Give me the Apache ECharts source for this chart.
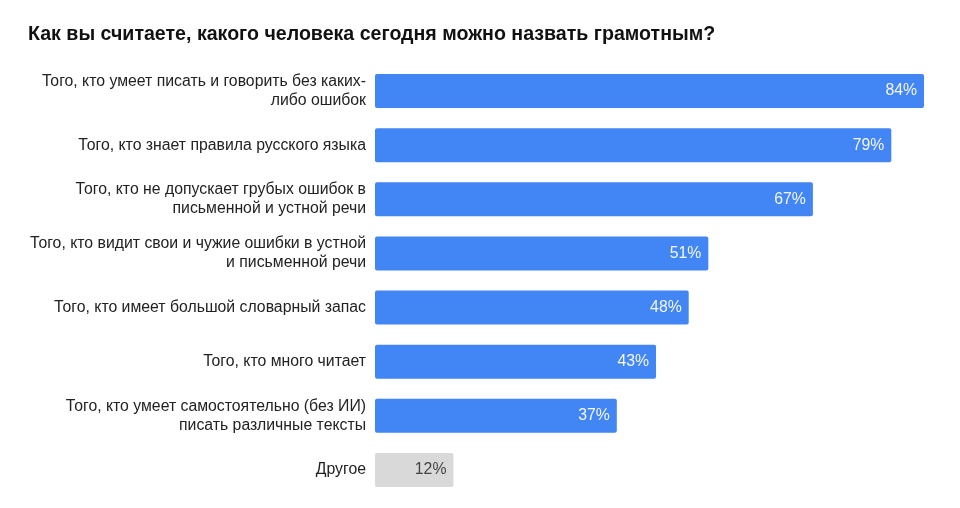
<!DOCTYPE html>
<html><head><meta charset="utf-8">
<script src="https://cdn.jsdelivr.net/npm/echarts@6/dist/echarts.min.js"></script>
<style>html,body{margin:0;padding:0;background:#fff}#c{width:960px;height:508px}</style>
</head><body><div id="c"></div>
<script>
const categories = [
  "Того, кто умеет писать и говорить без каких-\nлибо ошибок",
  "Того, кто знает правила русского языка",
  "Того, кто не допускает грубых ошибок в\nписьменной и устной речи",
  "Того, кто видит свои и чужие ошибки в устной\nи письменной речи",
  "Того, кто имеет большой словарный запас",
  "Того, кто много читает",
  "Того, кто умеет самостоятельно (без ИИ)\nписать различные тексты",
  "Другое"
];
const values = [84, 79, 67, 51, 48, 43, 37, 12];
const otherIndex = 7;

const FF = 'Liberation Sans, Arial, sans-serif';
const chart = echarts.init(document.getElementById('c'), null, {renderer:'canvas'});
const data = values.map((v,i)=>({
  value: v,
  itemStyle: { color: i===otherIndex ? '#d9d9d9' : '#4285f4' },
  label: { color: i===otherIndex ? '#444444' : '#f4f7ff' }
}));
chart.setOption({
  animation:false,
  textStyle:{fontFamily:FF},
  title:{
    text:'Как вы считаете, какого человека сегодня можно назвать грамотным?',
    left:23, top:20,
    textStyle:{fontSize:19.6, fontWeight:'bold', color:'#111', fontFamily:FF}
  },
  grid:{left:375, top:64, height:433, right:36, containLabel:false},
  xAxis:{type:'value', min:0, max:84, show:false},
  yAxis:{
    type:'category', data:categories, inverse:true,
    axisLine:{show:false}, axisTick:{show:false},
    axisLabel:{margin:9, fontSize:15.8, color:'#222', lineHeight:19, align:'right', fontFamily:FF}
  },
  series:[{
    type:'bar', data:data, barWidth:34,
    itemStyle:{borderRadius:2},
    label:{show:true, position:'insideRight', distance:7, fontSize:15.8,
      formatter:p=>p.value+'%', fontFamily:FF}
  }]
});
</script></body></html>
